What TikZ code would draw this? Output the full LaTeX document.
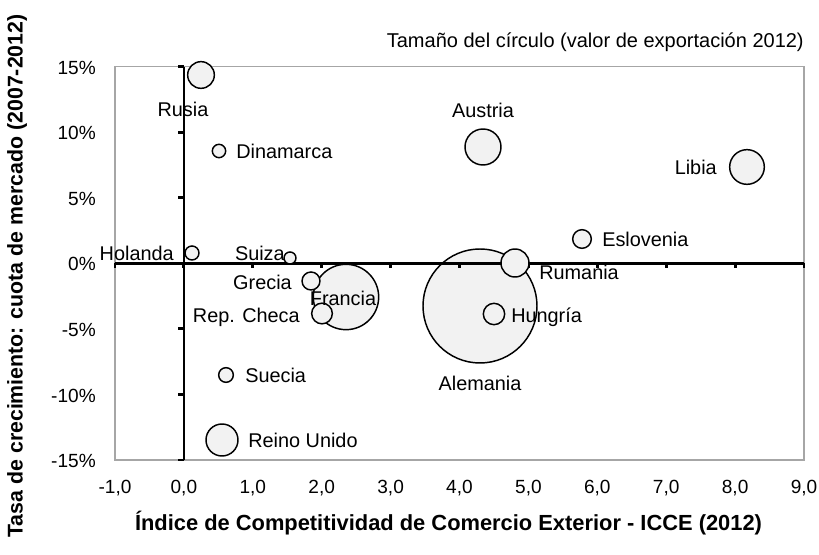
\documentclass[tikz,border=0pt]{standalone}
\usepackage{fontspec}
\setmainfont{Liberation Sans}
\definecolor{bubfill}{HTML}{F2F2F2}
\definecolor{framegray}{HTML}{A6A6A6}
\begin{document}
\begin{tikzpicture}[x=0.75pt,y=-0.75pt,
  bubble/.style={circle,draw=black,line width=1.1pt,fill=bubfill,inner sep=0pt},
  lbl/.style={inner sep=0pt,yshift=-3pt,font=\fontsize{14.9}{17}\selectfont},
  ticklbl/.style={inner sep=0pt,yshift=-3pt,font=\fontsize{14.3}{17}\selectfont},
  axtitle/.style={inner sep=0pt,font=\fontsize{16.4}{19}\selectfont\bfseries},
  axisline/.style={line width=2.2pt,black},
  frameline/.style={line width=1.1pt,framegray}]
\useasboundingbox (0,0) rectangle (819,555);
% frame
\draw[frameline] (115,66.7) rectangle (804,460);
% title
\node[lbl,anchor=mid east,font=\fontsize{15}{18}\selectfont] (title) at (804,40) {Tamaño del círculo (valor de exportación 2012)};
% y tick labels
\foreach \v/\t [count=\i] in {66.7/15\%,132.3/10\%,197.9/5\%,263.3/0\%,328.9/-5\%,394.5/-10\%,460/-15\%}
  \node[ticklbl,anchor=mid east] (yl\i) at (96,\v) {\t};
% x tick labels
\foreach \t [count=\i from 0] in {{-1,0},{0,0},{1,0},{2,0},{3,0},{4,0},{5,0},{6,0},{7,0},{8,0},{9,0}}
  \node[ticklbl,anchor=mid] (xl\i) at ({115+68.9*\i},485.5) {\t};
% largest bubble lies under the axes
\node[bubble,minimum size=85.5pt] (alemania) at (480,306) {};
% axes
\draw[axisline] (115,263.3) -- (804,263.3);
\foreach \i in {0,...,10}
  \draw[axisline] ({115+68.9*\i},263.3) -- ({115+68.9*\i},268.5);
\draw[axisline] (184,66.7) -- (184,460);
\foreach \v in {66.7,132.3,197.9,263.3,328.9,394.5,460}
  \draw[axisline] (178,\v) -- (184,\v);
% axis titles
\node[axtitle] (xtitle) at (448.5,523) {Índice de Competitividad de Comercio Exterior - ICCE (2012)};
\node[axtitle,rotate=90,font=\fontsize{16}{19}\selectfont\bfseries] (ytitle) at (17,276) {Tasa de crecimiento: cuota de mercado (2007-2012)};
% other bubbles
\node[bubble,minimum size=49pt] (francia) at (346,297) {};
\node[bubble,minimum size=27pt] (austria) at (483,147) {};
\node[bubble,minimum size=26pt] (libia) at (747,167) {};
\node[bubble,minimum size=21pt] (rumania) at (515,263) {};
\node[bubble,minimum size=24pt] (reino) at (222,440) {};
\node[bubble,minimum size=20pt] (rusia) at (201,75) {};
\node[bubble,minimum size=16pt] (hungria) at (494,314) {};
\node[bubble,minimum size=15.5pt] (checa) at (322,313.5) {};
\node[bubble,minimum size=13.5pt] (grecia) at (311,281) {};
\node[bubble,minimum size=14pt] (eslovenia) at (582,239) {};
\node[bubble,minimum size=11pt] (suecia) at (226,375) {};
\node[bubble,minimum size=10.5pt] (holanda) at (192,253) {};
\node[bubble,minimum size=10pt] (dinamarca) at (219,151) {};
\node[bubble,minimum size=9pt] (suiza) at (290,258) {};
% labels
\node[lbl,anchor=mid] (lrusia) at (183,109) {Rusia};
\node[lbl,anchor=mid west] (ldinamarca) at (236,151) {Dinamarca};
\node[lbl,anchor=mid east] (lholanda) at (174,253) {Holanda};
\node[lbl,anchor=mid east] (lsuiza) at (285,253) {Suiza};
\node[lbl,anchor=mid east] (lgrecia) at (292,282) {Grecia};
\node[lbl,anchor=mid east] (lcheca) at (300,315) {Rep. Checa};
\node[lbl,anchor=mid] (lfrancia) at (343,298) {Francia};
\node[lbl,anchor=mid] (laustria) at (483,110) {Austria};
\node[lbl,anchor=mid east] (llibia) at (717,167) {Libia};
\node[lbl,anchor=mid west] (leslovenia) at (602,239) {Eslovenia};
\node[lbl,anchor=mid west] (lrumania) at (539,272) {Rumania};
\node[lbl,anchor=mid west] (lhungria) at (511,315) {Hungría};
\node[lbl,anchor=mid] (lalemania) at (480,383) {Alemania};
\node[lbl,anchor=mid west] (lsuecia) at (245,375) {Suecia};
\node[lbl,anchor=mid west] (lreino) at (248,440) {Reino Unido};
\end{tikzpicture}
\end{document}
